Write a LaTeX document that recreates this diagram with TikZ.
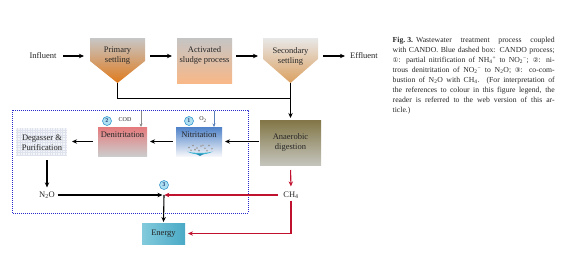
\documentclass[tikz,border=0pt]{standalone}
\usepackage{fontspec}
\setmainfont{Liberation Serif}
\newfontfamily\symfont{DejaVu Sans}
\usetikzlibrary{arrows.meta,calc}
\definecolor{rd}{HTML}{C0112E}
\definecolor{dotblue}{HTML}{2A2ACC}
\definecolor{numfill}{HTML}{AEE0F2}
\definecolor{numedge}{HTML}{3A9AD0}
\definecolor{numtext}{HTML}{1F3F78}
\definecolor{otwo}{HTML}{5B80B8}
\definecolor{codg}{HTML}{8A8A8A}
\definecolor{prmid}{RGB}{125,112,64}
\definecolor{prbot}{RGB}{224,122,28}
\definecolor{acmid}{RGB}{222,185,160}
\definecolor{acbot}{RGB}{248,184,136}
\definecolor{semid}{RGB}{168,166,156}
\definecolor{sebot}{RGB}{219,160,96}
\definecolor{antop}{RGB}{130,118,70}
\definecolor{anmid}{RGB}{160,154,128}
\definecolor{anbot}{RGB}{196,196,188}
\definecolor{nitop}{RGB}{79,130,200}
\definecolor{nimid}{RGB}{180,204,230}
\definecolor{nibot}{RGB}{244,246,250}
\definecolor{wave}{RGB}{63,180,208}
\definecolor{wavedark}{RGB}{40,140,180}
\definecolor{detop}{RGB}{228,122,124}
\definecolor{demid}{RGB}{214,168,168}
\definecolor{debot}{RGB}{204,204,204}
\definecolor{dgfill}{RGB}{244,245,248}
\definecolor{dggrid}{RGB}{222,226,236}
\definecolor{enleft}{RGB}{130,202,220}
\definecolor{enmid}{RGB}{232,246,250}
\definecolor{enright}{RGB}{74,170,198}
\begin{document}
\begin{tikzpicture}[x=1pt,y=-1pt,
  lbl/.style={font=\fontsize{8.5}{10}\selectfont, align=center, inner sep=0pt, text=black!85},
  bx/.style 2 args={minimum width=#1, minimum height=#2, inner sep=0pt, outer sep=0pt},
  arr/.style={-{Stealth[length=5pt,width=4.4pt]}, line width=1.1pt, draw=black},
  rarr/.style={-{Stealth[length=5pt,width=4.4pt]}, line width=1.1pt, draw=rd},
  plain/.style={line width=1.1pt, draw=black},
  thinarr/.style={-{Stealth[length=3.5pt,width=3pt]}, line width=0.8pt},
  num/.style={circle, draw=numedge, fill=numfill, line width=0.6pt, minimum size=9pt, inner sep=0pt, font=\fontsize{5.5}{6}\selectfont\sffamily\bfseries, text=numtext},
  small/.style={font=\fontsize{6}{7}\selectfont, inner sep=0pt, text=black!85},
  bubble/.style={draw=black!45, line width=0.3pt, fill=white},
]
\useasboundingbox (0,0) rectangle (570,265);

% ---- top row ----
\node[lbl] (influent) at (43,56) {Influent};
\node[lbl] (effluent) at (364,56) {Effluent};

\node[bx={55pt}{45pt}] (primary) at (117.5,60.5) {};
\shade[top color=black!22, middle color=prmid, bottom color=prbot]
  (primary.north west) -- (primary.north east) -- ($(primary.north east)+(0,23)$) -- (primary.south) -- ($(primary.north west)+(0,23)$) -- cycle;
\node[lbl] (primarylbl) at (117.5,56) {Primary\\settling};

\node[bx={55pt}{45pt}, top color=black!23, middle color=acmid, bottom color=acbot] (activated) at (204.5,60.5) {};
\node[lbl] (activatedlbl) at (204.5,55.5) {Activated\\sludge process};

\node[bx={55pt}{45pt}] (secondary) at (290.5,60.5) {};
\shade[top color=black!9, middle color=semid, bottom color=sebot]
  (secondary.north west) -- (secondary.north east) -- ($(secondary.north east)+(0,21)$) -- (secondary.south) -- ($(secondary.north west)+(0,21)$) -- cycle;
\node[lbl] (secondarylbl) at (290.5,56) {Secondary\\settling};

\draw[arr, shorten <=6.5pt, shorten >=6pt] (influent.east) -- (influent.east -| primary.west);
\draw[arr, shorten <=5pt, shorten >=5pt] (primary.east |- influent) -- (activated.west |- influent);
\draw[arr, shorten <=4pt, shorten >=5pt] (activated.east |- influent) -- (secondary.west |- influent);
\draw[arr, shorten <=5pt, shorten >=5pt] (secondary.east |- influent) -- (effluent.west);

% ---- CANDO box ----
\draw[dotblue, line width=0.8pt, dash pattern=on 0.9pt off 1.1pt] (12,110) rectangle (248,213);

% ---- anaerobic ----
\node[bx={61pt}{45pt}, top color=antop, middle color=anmid, bottom color=anbot, lbl, minimum width=61pt, minimum height=45pt] (anaerobic) at (290.5,142.5) {Anaerobic\\digestion};
\coordinate (join) at (290.5,98.5);
\draw[plain] (primary.south) |- (join);
\draw[arr, shorten >=2pt] (secondary.south) -- (anaerobic.north);

% ---- nitritation ----
\node[bx={46pt}{29pt}, top color=nitop, middle color=nimid, bottom color=nibot] (nitritation) at (199,141.5) {};
\fill[wave] (187,151.5) .. controls (195,155.5) and (205,155.5) .. (213,151.5) .. controls (205,153.5) and (195,153.5) .. cycle;
\fill[wavedark] (196,153.8) -- (204,153.8) -- (200,156) -- cycle;
\foreach \p in {(189,147.5),(193,145.5),(197,148),(201,146),(205,148.2),(209,145.5),(212,148.8),(191,150.2),(199,150.6),(207,150.8),(203,145.2),(195,149.6)}
  \draw[bubble] \p circle (0.7pt);
\node[lbl] (nitlbl) at (199,134.5) {Nitritation};

% ---- denitritation ----
\node[bx={49pt}{29pt}, top color=detop, middle color=demid, bottom color=debot] (denit) at (122.5,141.5) {};
\node[lbl] (denitlbl) at (122.5,134.5) {Denitritation};

% ---- degasser ----
\node[bx={51pt}{28pt}, fill=dgfill] (degasser) at (41.5,142) {};
\draw[dggrid, line width=0.3pt, step=2.5pt] (degasser.south west) grid (degasser.north east);
\node[lbl] (degasserlbl) at (42,142.5) {Degasser \&\\Purification};

% ---- numbers and inputs ----
\node[num] (c1) at (189,121) {1};
\node[num] (c2) at (107,121) {2};
\node[small] (o2) at (203,119.5) {O\textsubscript{2}};
\node[small] (cod) at (125,120) {COD};
\coordinate (o2top) at (214,110.5);
\coordinate (codtop) at (141,110.5);
\draw[thinarr, draw=otwo] (o2top) -- (o2top |- nitritation.north);
\draw[thinarr, draw=codg] (codtop) -- (codtop |- denit.north);

\draw[arr, shorten <=1pt, shorten >=3pt] (anaerobic.west |- nitritation) -- (nitritation.east);
\draw[arr, shorten <=3.5pt, shorten >=3pt] (nitritation.west) -- (denit.east);
\draw[arr, shorten <=5pt, shorten >=5pt] (denit.west) -- (degasser.east |- denit);

% ---- bottom ----
\node[lbl] (n2o) at (47,195) {N\textsubscript{2}O};
\node[lbl] (ch4) at (291,195) {CH\textsubscript{4}};
\coordinate (mix) at (164,195);
\node[num] (c3) at (164,185) {3};
\node[bx={43pt}{21pt}, left color=enleft, middle color=enmid, right color=enright, lbl, minimum width=43pt, minimum height=21pt] (energy) at (163.5,233.5) {Energy};

\draw[arr, shorten <=4pt, shorten >=4pt] (degasser.south -| n2o) -- (n2o.north);
\draw[arr, shorten <=2.5pt, shorten >=1.5pt] (n2o.east) -- (mix);
\draw[rarr, shorten <=5pt, shorten >=0.3pt] (ch4.west) -- (mix);
\draw[arr, shorten >=1pt] (mix) -- (energy.north);
\draw[rarr, shorten <=5pt, shorten >=5pt] (anaerobic.south) -- (ch4.north);
\draw[rarr, shorten <=2pt, shorten >=3pt] (ch4.south) |- (energy.east);

% ---- caption ----
\node[anchor=north west, inner sep=0pt, align=left, font=\fontsize{7.7}{9.9}\selectfont, text=black!85] (caption) at (392.5,37.3) {%
\makebox[162pt][s]{\textbf{Fig.\kern2pt3.}\kern3pt Wastewater treatment process coupled}\\
\makebox[162pt][s]{with CANDO. Blue dashed box: CANDO process;}\\
\makebox[162pt][s]{{\symfont\fontsize{6.5}{7}\selectfont ①}: partial nitrification of NH\textsubscript{4}\textsuperscript{+} to NO\textsubscript{2}\textsuperscript{−}; {\symfont\fontsize{6.5}{7}\selectfont ②}: ni-}\\
\makebox[162pt][s]{trous denitritation of NO\textsubscript{2}\textsuperscript{−} to N\textsubscript{2}O; {\symfont\fontsize{6.5}{7}\selectfont ③}: co-com-}\\
\makebox[162pt][s]{bustion of N\textsubscript{2}O with CH\textsubscript{4}. (For interpretation of}\\
\makebox[162pt][s]{the references to colour in this figure legend, the}\\
\makebox[162pt][s]{reader is referred to the web version of this ar-}\\
ticle.)};
\end{tikzpicture}
\end{document}
